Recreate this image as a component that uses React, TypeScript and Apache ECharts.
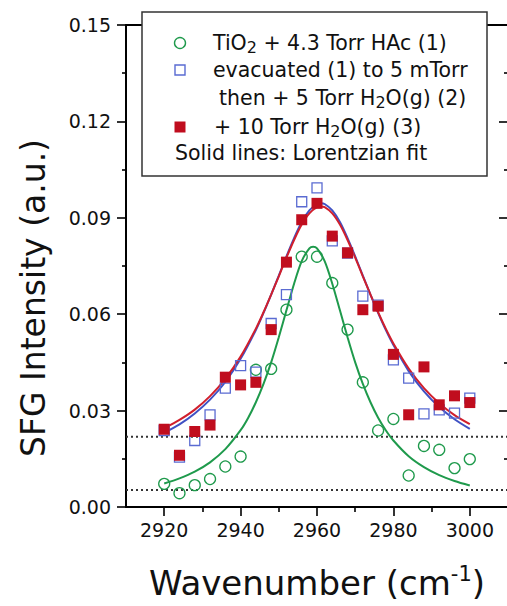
import React, { useEffect, useRef } from 'react';
import * as echarts from 'echarts';

// Measured SFG points (wavenumber in cm^-1)
const wavenumbers = [2920, 2924, 2928, 2932, 2936, 2940, 2944, 2948, 2952, 2956, 2960, 2964, 2968, 2972, 2976, 2980, 2984, 2988, 2992, 2996, 3000];
const tio2HAc = [0.0072, 0.0043, 0.0068, 0.0087, 0.0126, 0.0157, 0.0427, 0.0430, 0.0614, 0.0779, 0.0779, 0.0697, 0.0552, 0.0388, 0.0238, 0.0274, 0.0098, 0.0190, 0.0178, 0.0121, 0.0149];
const evacuatedH2O5 = [0.0238, 0.0155, 0.0207, 0.0287, 0.0370, 0.0440, 0.0420, 0.0571, 0.0661, 0.0950, 0.0993, 0.0828, 0.0790, 0.0656, 0.0628, 0.0458, 0.0401, 0.0290, 0.0302, 0.0292, 0.0339];
const h2o10 = [0.0242, 0.0161, 0.0235, 0.0255, 0.0404, 0.0380, 0.0388, 0.0552, 0.0762, 0.0894, 0.0945, 0.0843, 0.0791, 0.0614, 0.0625, 0.0475, 0.0287, 0.0436, 0.0318, 0.0346, 0.0325];

// Lorentzian fit curves
const fitX1 = [2920, 2924, 2928, 2932, 2936, 2940, 2942, 2944, 2946, 2948, 2950, 2952, 2954, 2956, 2958, 2959, 2960, 2962, 2964, 2966, 2968, 2970, 2972, 2974, 2976, 2978, 2980, 2984, 2988, 2992, 2996, 3000];
const fit1 = [0.0073, 0.0089, 0.0110, 0.0139, 0.0180, 0.0239, 0.0278, 0.0326, 0.0383, 0.0450, 0.0528, 0.0612, 0.0695, 0.0765, 0.0805, 0.0810, 0.0805, 0.0765, 0.0695, 0.0612, 0.0528, 0.0450, 0.0383, 0.0326, 0.0278, 0.0239, 0.0207, 0.0158, 0.0124, 0.0099, 0.0081, 0.0067];
const fitX23 = [2920, 2924, 2928, 2932, 2936, 2940, 2944, 2946, 2948, 2950, 2952, 2954, 2956, 2958, 2960, 2961, 2962, 2964, 2966, 2968, 2970, 2972, 2974, 2976, 2978, 2980, 2984, 2988, 2992, 2996, 3000];
const fit2 = [0.0231, 0.0257, 0.0291, 0.0334, 0.0389, 0.0461, 0.0551, 0.0604, 0.0661, 0.0720, 0.0780, 0.0837, 0.0887, 0.0923, 0.0943, 0.0945, 0.0943, 0.0923, 0.0887, 0.0837, 0.0780, 0.0720, 0.0661, 0.0604, 0.0551, 0.0504, 0.0423, 0.0360, 0.0311, 0.0273, 0.0243];
const fit3 = [0.0245, 0.0271, 0.0303, 0.0345, 0.0399, 0.0468, 0.0555, 0.0606, 0.0661, 0.0718, 0.0776, 0.0831, 0.0879, 0.0914, 0.0933, 0.0935, 0.0933, 0.0914, 0.0879, 0.0831, 0.0776, 0.0718, 0.0661, 0.0606, 0.0555, 0.0509, 0.0431, 0.0370, 0.0323, 0.0286, 0.0258];

// Reference levels (dotted)
const baselines = [0.0219, 0.0053];

const xMajorTicks = [2920, 2940, 2960, 2980, 3000];
const xMinorTicks = [2930, 2950, 2970, 2990];

const FONT = 'DejaVu Sans, Liberation Sans, Arial, sans-serif';
const GREEN = '#1f9a4c';
const BLUE = '#3f51c4';
const BLUE_MARK = '#5a6bd2';
const RED = '#d11f2c';
const RED_MARK = '#c00d1e';

const pairs = (xs: number[], ys: number[]) => xs.map((x, i) => [x, ys[i]]);

export default function App() {
  const ref = useRef<HTMLDivElement>(null);

  useEffect(() => {
    if (!ref.current) return;
    const chart = echarts.init(ref.current, undefined, { renderer: 'svg' });

    const axisLineStyle = { color: '#000', width: 2 };
    const tickStyle = { color: '#000', width: 1.6 };

    const legendText = (x: number, y: number, text: string) => ({
      type: 'text',
      x,
      y,
      z: 101,
      style: {
        text,
        fontSize: 20,
        fontFamily: FONT,
        fill: '#111',
        align: 'left',
        verticalAlign: 'middle',
        textAlign: 'left',
        textVerticalAlign: 'middle',
        lineHeight: 24,
        rich: {
          n: { fontSize: 20.5, fontFamily: FONT, lineHeight: 24, fill: '#111' },
          sub: { fontSize: 16, fontFamily: FONT, lineHeight: 16, verticalAlign: 'bottom', fill: '#111' },
        },
      },
    });

    chart.setOption({
      animation: false,
      backgroundColor: '#fff',
      grid: { left: 126, top: 25, width: 382, height: 482, containLabel: false, outerBoundsMode: 'none' },
      xAxis: [
        {
          type: 'value',
          min: 2910,
          max: 3010,
          position: 'bottom',
          axisLine: { show: true, lineStyle: axisLineStyle },
          axisTick: { show: true, customValues: xMajorTicks, length: 9, lineStyle: tickStyle },
          axisLabel: {
            customValues: xMajorTicks,
            fontSize: 19,
            fontFamily: FONT,
            color: '#111',
            margin: 13,
            formatter: (v: number) => String(v),
          },
          splitLine: { show: false },
        },
        {
          type: 'value',
          min: 2910,
          max: 3010,
          position: 'bottom',
          axisLine: { show: false },
          axisTick: { show: true, customValues: xMinorTicks, length: 5, lineStyle: tickStyle },
          axisLabel: { show: false },
          splitLine: { show: false },
        },
        {
          type: 'value',
          min: 2910,
          max: 3010,
          position: 'top',
          axisLine: { show: true, lineStyle: axisLineStyle },
          axisTick: { show: false },
          axisLabel: { show: false },
          splitLine: { show: false },
        },
      ],
      yAxis: [
        {
          type: 'value',
          min: 0,
          max: 0.15,
          interval: 0.03,
          position: 'left',
          axisLine: { show: true, lineStyle: axisLineStyle },
          axisTick: { show: true, length: 9, lineStyle: tickStyle },
          minorTick: { show: true, splitNumber: 2, length: 4, lineStyle: tickStyle },
          axisLabel: {
            fontSize: 19,
            fontFamily: FONT,
            color: '#111',
            margin: 15,
            formatter: (v: number) => v.toFixed(2),
          },
          splitLine: { show: false },
          minorSplitLine: { show: false },
        },
        {
          type: 'value',
          min: 0,
          max: 0.15,
          interval: 0.03,
          position: 'right',
          axisLine: { show: true, lineStyle: axisLineStyle },
          axisTick: { show: true, inside: true, length: 9, lineStyle: tickStyle },
          minorTick: { show: true, splitNumber: 2, length: 4, lineStyle: tickStyle },
          axisLabel: { show: false },
          splitLine: { show: false },
          minorSplitLine: { show: false },
        },
      ],
      series: [
        ...baselines.map((b) => ({
          type: 'line',
          data: [
            [2910, b],
            [3010, b],
          ],
          symbol: 'none',
          silent: true,
          lineStyle: { color: '#333', width: 2, type: [2, 3] },
          z: 1,
        })),
        {
          name: 'fit1',
          type: 'line',
          data: pairs(fitX1, fit1),
          symbol: 'none',
          smooth: 0.3,
          lineStyle: { color: GREEN, width: 2 },
          z: 2,
        },
        {
          name: 'fit2',
          type: 'line',
          data: pairs(fitX23, fit2),
          symbol: 'none',
          smooth: 0.3,
          lineStyle: { color: BLUE, width: 2 },
          z: 2,
        },
        {
          name: 'fit3',
          type: 'line',
          data: pairs(fitX23, fit3),
          symbol: 'none',
          smooth: 0.3,
          lineStyle: { color: RED, width: 2 },
          z: 2,
        },
        {
          name: 'TiO2 + 4.3 Torr HAc (1)',
          type: 'scatter',
          data: pairs(wavenumbers, tio2HAc),
          symbol: 'circle',
          symbolSize: 11,
          itemStyle: { color: 'rgba(0,0,0,0)', borderColor: GREEN, borderWidth: 1.3, opacity: 1 },
          z: 3,
        },
        {
          name: 'evacuated (1) to 5 mTorr then + 5 Torr H2O(g) (2)',
          type: 'scatter',
          data: pairs(wavenumbers, evacuatedH2O5),
          symbol: 'rect',
          symbolSize: 10,
          itemStyle: { color: 'rgba(0,0,0,0)', borderColor: BLUE_MARK, borderWidth: 1.3, opacity: 1 },
          z: 4,
        },
        {
          name: '+ 10 Torr H2O(g) (3)',
          type: 'scatter',
          data: pairs(wavenumbers, h2o10),
          symbol: 'rect',
          symbolSize: 11,
          itemStyle: { color: RED_MARK, opacity: 1 },
          z: 5,
        },
      ],
      graphic: [
        {
          type: 'rect',
          z: 100,
          shape: { x: 142, y: 12, width: 345, height: 164 },
          style: { fill: '#fff', stroke: '#333', lineWidth: 1.5 },
        },
        {
          type: 'circle',
          z: 101,
          shape: { cx: 180, cy: 43, r: 5.5 },
          style: { fill: 'none', stroke: GREEN, lineWidth: 1.4 },
        },
        {
          type: 'rect',
          z: 101,
          shape: { x: 175, y: 65, width: 10, height: 10 },
          style: { fill: 'none', stroke: BLUE_MARK, lineWidth: 1.4 },
        },
        {
          type: 'rect',
          z: 101,
          shape: { x: 174.5, y: 121.5, width: 11, height: 11 },
          style: { fill: RED_MARK },
        },
        legendText(213, 43, '{n|TiO}{sub|2}{n| + 4.3 Torr HAc (1)}'),
        legendText(213, 70, '{n|evacuated (1) to 5 mTorr}'),
        legendText(219, 98, '{n|then + 5 Torr H}{sub|2}{n|O(g) (2)}'),
        legendText(214, 127, '{n|+ 10 Torr H}{sub|2}{n|O(g) (3)}'),
        legendText(175, 153, '{n|Solid lines: Lorentzian fit}'),
        {
          type: 'text',
          x: 317,
          y: 583,
          z: 101,
          style: {
            text: '{t|Wavenumber (cm}{s|-1}{t|)}',
            align: 'center',
            verticalAlign: 'middle',
            textAlign: 'center',
            textVerticalAlign: 'middle',
            fill: '#111',
            rich: {
              t: { fontSize: 34, fontFamily: FONT, lineHeight: 40, fill: '#111' },
              s: { fontSize: 21, fontFamily: FONT, lineHeight: 20, verticalAlign: 'top', fill: '#111' },
            },
          },
        },
        {
          type: 'text',
          x: 33,
          y: 298,
          rotation: Math.PI / 2,
          z: 101,
          style: {
            text: 'SFG Intensity (a.u.)',
            fontSize: 33,
            fontFamily: FONT,
            fill: '#111',
            align: 'center',
            verticalAlign: 'middle',
            textAlign: 'center',
            textVerticalAlign: 'middle',
          },
        },
      ],
    });

    return () => chart.dispose();
  }, []);

  return (
    <div
      ref={ref}
      style={{ position: 'fixed', left: 0, top: 0, width: 520, height: 606, background: '#fff' }}
    />
  );
}
